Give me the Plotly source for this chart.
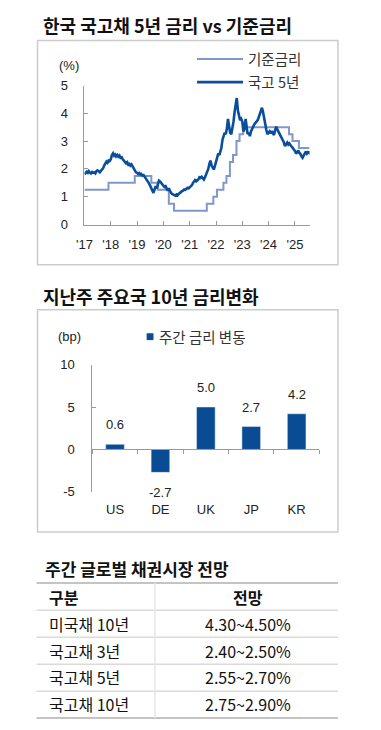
import plotly.graph_objects as go

# The page body keeps its default 8px margin, so the figure is laid out
# in page pixels and shifted by that margin.
PAGE_MARGIN = 8
W, H = 381 - PAGE_MARGIN, 730 - PAGE_MARGIN


def fx(p):
    return (p - PAGE_MARGIN) / W


def fy(p):
    return 1 - (p - PAGE_MARGIN) / H


# ---------------- Data ----------------
# Korea 5Y treasury yield (%), semi-monthly readings
ktb5_2017 = [1.80, 1.84, 1.90, 1.86, 1.92, 1.87, 1.84, 1.89, 1.86, 1.88, 1.84, 1.92,
             1.95, 1.92, 1.88, 1.93, 1.96, 2.02, 2.12, 2.20, 2.26, 2.22, 2.30, 2.28]
ktb5_2018 = [2.35, 2.50, 2.56, 2.48, 2.52, 2.45, 2.50, 2.44, 2.48, 2.40, 2.42, 2.35,
             2.30, 2.26, 2.20, 2.24, 2.15, 2.18, 2.12, 2.16, 2.08, 2.02, 1.95, 1.88]
ktb5_2019 = [1.86, 1.82, 1.85, 1.80, 1.82, 1.76, 1.78, 1.72, 1.70, 1.64, 1.55, 1.48,
             1.40, 1.32, 1.18, 1.14, 1.26, 1.38, 1.30, 1.42, 1.58, 1.55, 1.50, 1.46]
ktb5_2020 = [1.42, 1.35, 1.38, 1.28, 1.22, 1.30, 1.20, 1.14, 1.10, 1.08, 1.06, 1.04,
             1.08, 1.05, 1.10, 1.14, 1.18, 1.20, 1.22, 1.26, 1.25, 1.30, 1.32, 1.30]
ktb5_2021 = [1.34, 1.38, 1.42, 1.50, 1.56, 1.60, 1.55, 1.58, 1.62, 1.70, 1.68, 1.72,
             1.65, 1.62, 1.70, 1.80, 1.90, 2.00, 2.18, 2.30, 2.12, 2.05, 1.98, 2.10]
ktb5_2022 = [2.25, 2.40, 2.55, 2.50, 2.62, 2.75, 3.05, 3.20, 3.30, 3.25, 3.45, 3.80,
             3.50, 3.30, 3.25, 3.45, 3.70, 4.05, 4.30, 4.55, 4.10, 3.85, 3.75, 3.80]
ktb5_2023 = [3.70, 3.35, 3.45, 3.80, 3.40, 3.25, 3.30, 3.18, 3.35, 3.45, 3.50, 3.60,
             3.65, 3.70, 3.75, 3.85, 3.95, 4.05, 4.20, 4.05, 3.80, 3.55, 3.40, 3.25]
ktb5_2024 = [3.30, 3.35, 3.28, 3.36, 3.28, 3.22, 3.40, 3.52, 3.42, 3.35, 3.28, 3.22,
             3.15, 3.05, 2.95, 2.82, 2.90, 2.95, 2.88, 2.92, 2.85, 2.82, 2.76, 2.70]
ktb5_2025 = [2.65, 2.55, 2.62, 2.66, 2.58, 2.55, 2.45, 2.40, 2.48, 2.58, 2.62, 2.55,
             2.60, 2.58, 2.64]

ktb5_values = (ktb5_2017 + ktb5_2018 + ktb5_2019 + ktb5_2020 + ktb5_2021
               + ktb5_2022 + ktb5_2023 + ktb5_2024 + ktb5_2025)
ktb5_dates = [f"{y}-{m:02d}-{d:02d}" for y in range(2017, 2025)
              for m in range(1, 13) for d in (1, 16)]
ktb5_dates += [f"2025-{m:02d}-{d:02d}" for m in range(1, 8) for d in (1, 16)]
ktb5_dates += ["2025-07-23"]

# BOK base rate (%), step changes
base_dates = ["2017-01-01", "2017-11-30", "2018-11-30", "2019-07-18", "2019-10-16",
              "2020-03-17", "2020-05-28", "2021-08-26", "2021-11-25", "2022-01-14",
              "2022-04-14", "2022-05-26", "2022-07-13", "2022-08-25", "2022-10-12",
              "2022-11-24", "2023-01-13", "2024-10-11", "2024-11-28", "2025-02-25",
              "2025-07-23"]
base_values = [1.25, 1.50, 1.75, 1.50, 1.25, 0.75, 0.50, 0.75, 1.00, 1.25, 1.50, 1.75,
               2.25, 2.50, 3.00, 3.25, 3.50, 3.25, 3.00, 2.75, 2.75]

year_tick_dates = [f"{y}-01-01" for y in range(2017, 2026)]
year_tick_labels = ["'17", "'18", "'19", "'20", "'21", "'22", "'23", "'24", "'25"]
rate_ticks = [0, 1, 2, 3, 4, 5]

# Weekly 10Y yield change (bp)
countries = ["US", "DE", "UK", "JP", "KR"]
changes_bp = [0.6, -2.7, 5.0, 2.7, 4.2]
bp_ticks = [-5, 0, 5, 10]
bp_tick_labels = ["-5", "0", "5", "10"]

# Outlook table
table_header = ["구분", "전망"]
table_items = ["미국채 10년", "국고채 3년", "국고채 5년", "국고채 10년"]
table_outlook = ["4.30~4.50%", "2.40~2.50%", "2.55~2.70%", "2.75~2.90%"]

# ---------------- Styles ----------------
C_BASE = "#8197C9"
C_KTB = "#0A4E9B"
C_BAR = "#0A4C94"
AX = "#9a9a9a"
TXT = "#222222"
KR = "Noto Sans CJK KR"
LAT = "Liberation Sans, Arial"

fig = go.Figure()

fig.add_trace(go.Scatter(x=base_dates, y=base_values, mode="lines", line_shape="hv",
                         line=dict(color=C_BASE, width=2), name="기준금리",
                         showlegend=False, xaxis="x", yaxis="y"))
fig.add_trace(go.Scatter(x=ktb5_dates, y=ktb5_values, mode="lines",
                         line=dict(color=C_KTB, width=2.6), name="국고 5년",
                         showlegend=False, xaxis="x", yaxis="y"))

fig.add_trace(go.Bar(x=countries, y=changes_bp, marker_color=C_BAR, width=0.41,
                     name="주간 금리 변동", showlegend=False, xaxis="x2", yaxis="y2"))
# invisible twin, so the zero-line axis with boundary ticks is drawn
fig.add_trace(go.Bar(x=countries, y=changes_bp, opacity=0, hoverinfo="skip",
                     showlegend=False, xaxis="x3", yaxis="y2"))

axis_common = dict(showline=True, linecolor=AX, linewidth=1, tickcolor=AX,
                   ticklen=4, showgrid=False, zeroline=False,
                   tickfont=dict(family=LAT, size=13, color=TXT))

fig.update_layout(
    width=W, height=H, autosize=False,
    margin=dict(l=0, r=0, t=0, b=0),
    paper_bgcolor="white", plot_bgcolor="white",
    showlegend=False,
    xaxis=dict(domain=[fx(78), fx(308)], anchor="y", type="date",
               range=["2017-01-01", "2025-07-23"], tickmode="array",
               tickvals=year_tick_dates, ticktext=year_tick_labels,
               ticks="inside", ticklabelstandoff=8, **axis_common),
    yaxis=dict(domain=[fy(222), fy(80)], anchor="x", range=[0, 5],
               tickmode="array", tickvals=rate_ticks, ticks="inside",
               ticklabelstandoff=13, **axis_common),
    xaxis2=dict(domain=[fx(86), fx(318)], anchor="y2", type="category",
                categoryorder="array", categoryarray=countries, range=[-0.5, 4.5],
                showline=False, ticks="", showgrid=False, zeroline=False,
                ticklabelstandoff=8, tickfont=dict(family=LAT, size=13, color=TXT)),
    xaxis3=dict(domain=[fx(86), fx(318)], overlaying="x2", anchor="free",
                position=fy(451), side="bottom", type="category",
                categoryorder="array", categoryarray=countries, range=[-0.5, 4.5],
                showline=True, linecolor=AX, linewidth=1, ticks="outside",
                tickson="boundaries", ticklen=4, tickcolor=AX,
                showticklabels=False, showgrid=False, zeroline=False),
    yaxis2=dict(domain=[fy(495), fy(365)], anchor="x2", range=[-5, 10],
                tickmode="array", tickvals=bp_ticks, ticktext=bp_tick_labels,
                ticks="inside", ticklabelstandoff=14, **axis_common),
)

shapes = []
# chart frames
for top, bot in [(34, 263), (309, 536)]:
    shapes.append(dict(type="rect", xref="paper", yref="paper", x0=fx(30), x1=fx(337),
                       y0=fy(bot), y1=fy(top), line=dict(color="#cccccc", width=1.5),
                       fillcolor="rgba(0,0,0,0)", layer="below"))
# line chart legend swatches
shapes.append(dict(type="line", xref="paper", yref="paper", x0=fx(193), x1=fx(240),
                   y0=fy(53), y1=fy(53), line=dict(color=C_BASE, width=2)))
shapes.append(dict(type="line", xref="paper", yref="paper", x0=fx(193), x1=fx(240),
                   y0=fy(76.5), y1=fy(76.5), line=dict(color=C_KTB, width=2.6)))
# bar legend swatch
shapes.append(dict(type="rect", xref="paper", yref="paper", x0=fx(141.5), x1=fx(148.5),
                   y0=fy(340), y1=fy(333), line=dict(width=0), fillcolor=C_BAR))
# table rules
for yy, col, wd in [(588, "#c4c4c4", 2), (616, "#dadada", 1.5), (643.5, "#dadada", 1.5),
                    (671, "#dadada", 1.5), (698.5, "#dadada", 1.5), (726, "#c4c4c4", 2)]:
    shapes.append(dict(type="line", xref="paper", yref="paper", x0=fx(29), x1=fx(337),
                       y0=fy(yy), y1=fy(yy), line=dict(color=col, width=wd)))
shapes.append(dict(type="line", xref="paper", yref="paper", x0=fx(150), x1=fx(150),
                   y0=fy(726), y1=fy(588), line=dict(color="#e6e6e6", width=1.5)))
fig.update_layout(shapes=shapes)

ann = []


def text(x, y, s, size, family=KR, anchor="left", color=TXT):
    ann.append(dict(xref="paper", yref="paper", x=fx(x), y=fy(y), text=s,
                    showarrow=False, xanchor=anchor, yanchor="middle",
                    font=dict(family=family, size=size, color=color)))


text(34, 18, "<b>한국 국고채 5년 금리 vs 기준금리</b>", 18, color="#111")
text(34, 295, "<b>지난주 주요국 10년 금리변화</b>", 18, color="#111")
text(36, 573, "<b>주간 글로벌 채권시장 전망</b>", 17, color="#111")
text(62, 60, "(%)", 13, family=LAT, anchor="center")
text(63, 336, "(bp)", 13, family=LAT, anchor="center")
text(243, 52, "기준금리", 14.5, color="#333")
text(243, 76, "국고 5년", 14.5, color="#333")
text(152, 336, "주간 금리 변동", 14.5, color="#333")

# table text
text(40, 602, f"<b>{table_header[0]}</b>", 16, color="#111")
text(245, 602, f"<b>{table_header[1]}</b>", 16, anchor="center", color="#111")
row_y = [630, 657.5, 684.5, 712]
for yy, item, outlook in zip(row_y, table_items, table_outlook):
    text(40, yy, item, 16, color="#111")
    text(245.5, yy, outlook, 16, anchor="center", color="#111")

for c, v in zip(countries, changes_bp):
    ann.append(dict(xref="x2", yref="y2", x=c, y=v, text=f"{v:.1f}", showarrow=False,
                    yanchor="bottom" if v >= 0 else "top",
                    yshift=10 if v >= 0 else -11,
                    font=dict(family=LAT, size=13, color=TXT)))

fig.update_layout(annotations=ann)

fig.write_html("out.html")
